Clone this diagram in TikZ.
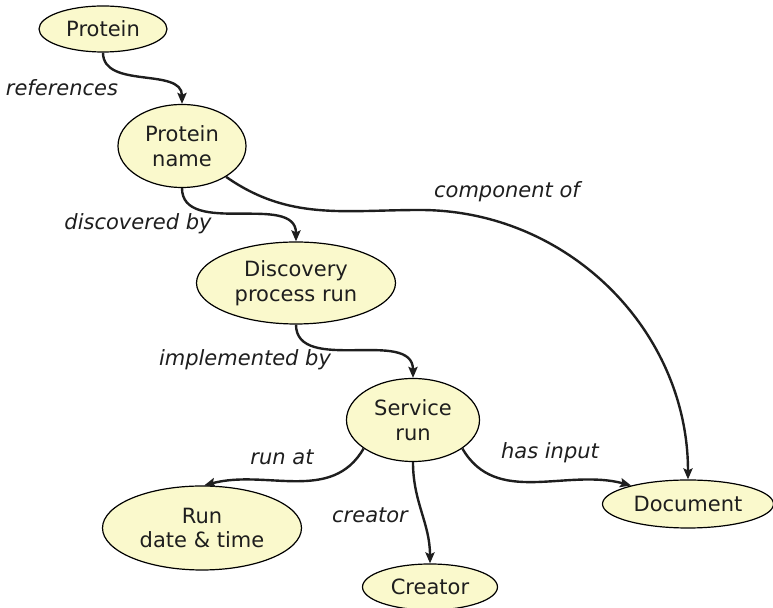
\documentclass[tikz,border=0pt]{standalone}
\usepackage{fontspec}
\setmainfont{DejaVu Sans}
\usepackage{tikz}
\usetikzlibrary{shapes.geometric, arrows.meta, positioning}
\definecolor{nodefill}{RGB}{250,249,204}
\definecolor{inkgray}{RGB}{30,30,30}

\begin{document}
\begin{tikzpicture}[
        x=0.5pt, y=0.5pt,
        every node/.style={font=\fontsize{10.5}{12.5}\selectfont, text=inkgray},
        concept/.style={ellipse, draw=black, line width=0.6pt, fill=nodefill,
            inner sep=0pt, align=center},
        rel/.style={font=\fontsize{10.5}{12.5}\selectfont\itshape},
        arr/.style={line width=1.2pt, draw=inkgray,
            -{Stealth[length=5.5pt, width=4.6pt, inset=1pt]}}
    ]
    \useasboundingbox (0,0) rectangle (773,-608);
    \node (prot)    [concept, minimum width=64pt, minimum height=23pt]   at (103,-29)  {Protein};
    \node (pname)   [concept, minimum width=64pt, minimum height=41.5pt] at (182,-146) {Protein\\name};
    \node (disc)    [concept, minimum width=99.5pt, minimum height=41pt] at (296,-283) {Discovery\\process run};
    \node (serv)    [concept, minimum width=66.5pt, minimum height=41.5pt] at (413,-420) {Service\\run};
    \node (rundt)   [concept, minimum width=99.5pt, minimum height=42pt] at (202,-528) {Run\\date \& time};
    \node (creator) [concept, minimum width=67.5pt, minimum height=23pt] at (430,-587) {Creator};
    \node (doc)     [concept, minimum width=85.5pt, minimum height=24pt] at (688,-504) {Document};
    \coordinate (cbend) at (420,-210);
    % relation labels
    \node (lref)  [rel] at (62,-88)   {references};
    \node (lcomp) [rel] at (507,-192) {component of};
    \node (ldisc) [rel] at (138,-224) {discovered by};
    \node (limpl) [rel] at (245,-360) {implemented by};
    \node (lrun)  [rel] at (282,-457) {run at};
    \node (linp)  [rel] at (550,-453) {has input};
    \node (lcre)  [rel] at (370,-515) {creator};
    % relations
    \draw [arr] (prot.south)  to[out=-90, in=90] (pname.north);
    \draw [arr] (pname.south) to[out=-90, in=90] (disc.north);
    \draw [arr] (disc.south)  to[out=-90, in=90] (serv.north);
    \draw [arr] (pname.-35)   to[out=-35, in=180] (cbend)
        to[out=0, in=90] (doc.north);
    \draw [arr] (serv.210)    to[out=-120, in=15] (rundt.87);
    \draw [arr] (serv.south)  to[out=-90, in=90] (creator.north);
    \draw [arr] (serv.-30)    to[out=-60, in=165] (doc.162);
\end{tikzpicture}
\end{document}
